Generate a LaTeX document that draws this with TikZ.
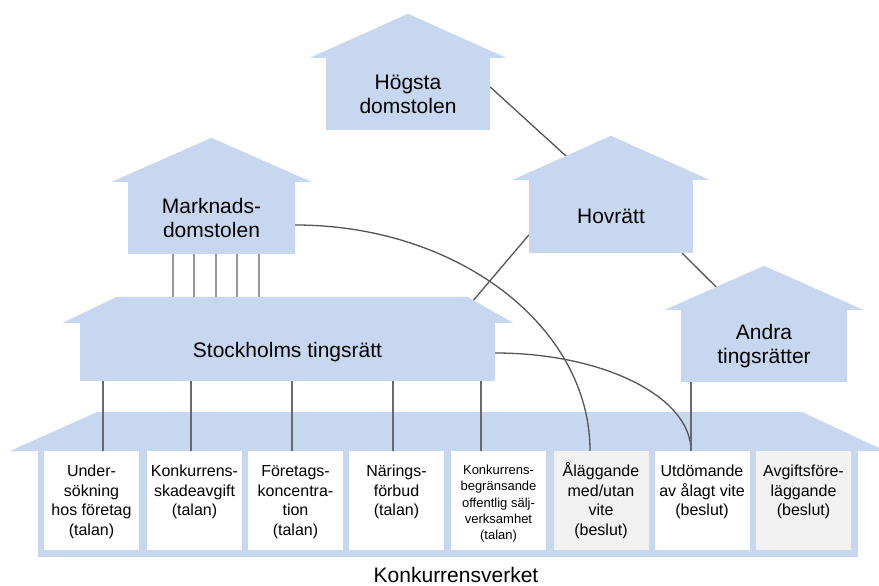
\documentclass[tikz,border=0pt]{standalone}
\usepackage{fontspec}
\setmainfont{Liberation Sans}
\usetikzlibrary{calc}
\pgfdeclarelayer{bg}
\pgfdeclarelayer{conn}
\pgfsetlayers{bg,conn,main}
\definecolor{housec}{RGB}{198,215,239}
\definecolor{greybox}{RGB}{241,241,241}
\definecolor{linec}{RGB}{85,85,85}
\definecolor{linemid}{RGB}{105,105,105}
\definecolor{linelight}{RGB}{150,150,150}
\newcommand\flstrut{\rule{0pt}{15pt}}
\newcommand\houseroof[1]{\fill[housec] ($(#1.north west)+(-16,0)$) -- ($(#1.north)+(0,-44)$) -- ($(#1.north east)+(16,0)$) -- cycle;}
\tikzset{
  housebody/.style={fill=housec, inner sep=0pt, align=center, font=\fontsize{21}{24}\selectfont},
  cbox/.style={fill=white, minimum width=95pt, minimum height=99pt, inner sep=0pt},
  gbox/.style={cbox, fill=greybox},
  boxtext/.style={anchor=north, align=center, inner sep=0pt, font=\fontsize{16}{19.5}\selectfont},
  smalltext/.style={boxtext, font=\fontsize{13}{16.2}\selectfont},
  connline/.style={draw=linec, line width=1.3pt},
  dropline/.style={draw=linemid, line width=1.5pt},
  mdpost/.style={draw=linelight, line width=1.5pt},
}
\begin{document}
\begin{tikzpicture}[x=1pt, y=-1pt]
\useasboundingbox (0,0) rectangle (879,586);
% houses
\node[housebody, minimum width=164pt, minimum height=72pt] (hd) at (408,94) {Högsta\\domstolen};
\houseroof{hd}
\node[housebody, minimum width=164pt, minimum height=73pt] (ho) at (611,216.5) {Hovrätt};
\houseroof{ho}
\node[housebody, minimum width=166pt, minimum height=72pt] (at) at (764,346) {Andra\\tingsrätter};
\houseroof{at}
\node[housebody, minimum width=167pt, minimum height=72pt] (md) at (211.5,218) {Marknads-\\domstolen};
\houseroof{md}
\node[housebody, minimum width=415pt, minimum height=58pt] (st) at (287.5,352) {Stockholms tingsrätt};
\fill[housec] ($(st.north west)+(-17,0)$) -- ($(st.north west)+(37,-26)$) -- ($(st.north east)+(-28,-26)$) -- ($(st.north east)+(18,0)$) -- cycle;
\coordinate (stt) at ($(st.north)+(0,-26)$);
% Konkurrensverket
\begin{pgfonlayer}{bg}
\fill[white] (0,0) rectangle (879,586);
\fill[housec] (10,451) -- (97,412) -- (802,412) -- (879,448) -- (879,451) -- cycle;
\node[fill=housec, minimum width=820pt, minimum height=106pt, inner sep=0pt] (kv) at (448,504) {};
\node[cbox] (b1) at (91.5,500.5) {};
\node[cbox] (b2) at (194.5,500.5) {};
\node[cbox] (b3) at (295.5,500.5) {};
\node[cbox] (b4) at (396.5,500.5) {};
\node[cbox] (b5) at (498.5,500.5) {};
\node[gbox] (b6) at (601,500.5) {};
\node[cbox] (b7) at (702,500.5) {};
\node[gbox] (b8) at (803.5,500.5) {};
\end{pgfonlayer}
\node[boxtext] (t1) at ($(b1.north)+(0,10.5)$) {\flstrut Under-\\sökning\\hos företag\\(talan)};
\node[boxtext] (t2) at ($(b2.north)+(0,10.5)$) {\flstrut Konkurrens-\\skadeavgift\\(talan)};
\node[boxtext] (t3) at ($(b3.north)+(0,10.5)$) {\flstrut Företags-\\koncentra-\\tion\\(talan)};
\node[boxtext] (t4) at ($(b4.north)+(0,10.5)$) {\flstrut Närings-\\förbud\\(talan)};
\node[smalltext] (t5) at ($(b5.north)+(0,11.7)$) {\rule{0pt}{12pt}Konkurrens-\\begränsande\\offentlig sälj-\\verksamhet\\(talan)};
\node[boxtext] (t6) at ($(b6.north)+(0,10.5)$) {\flstrut Åläggande\\med/utan\\vite\\(beslut)};
\node[boxtext] (t7) at ($(b7.north)+(0,10.5)$) {\flstrut Utdömande\\av ålagt vite\\(beslut)};
\node[boxtext] (t8) at ($(b8.north)+(0,10.5)$) {\flstrut Avgiftsföre-\\läggande\\(beslut)};
\node[font=\fontsize{21}{24}\selectfont, inner sep=0pt] (kvl) at (456,575) {Konkurrensverket};
% connectors
\begin{pgfonlayer}{conn}
\draw[connline] ($(hd.east)+(0,-7)$) -- ($(ho.north)+(-43,-22)$);
\draw[connline] ($(ho.south east)+(-11,0)$) -- ($(at.north)+(-47,-22)$);
\draw[connline] ($(st.north east)+(-23,-21)$) -- ($(ho.west)+(0,18.5)$);
\draw[connline] ($(md.east)+(0,7)$) .. controls +(163,0) and +(0,-124) .. (b6.north -| 590,0);
\draw[connline] ($(st.east)+(0,1)$) .. controls +(108,0) and +(0,-54) .. (b7.north -| 691,0);
\draw[dropline] (at.south -| 691,0) -- (b7.north -| 691,0);
\foreach \x/\b in {103/b1,191/b2,292/b3,393/b4,481/b5}
  \draw[dropline] (st.south -| \x,0) -- (\b.north -| \x,0);
\foreach \x in {173,194,216,237,259}
  \draw[mdpost] (md.south -| \x,0) -- (stt -| \x,0);
\end{pgfonlayer}
\end{tikzpicture}
\end{document}
